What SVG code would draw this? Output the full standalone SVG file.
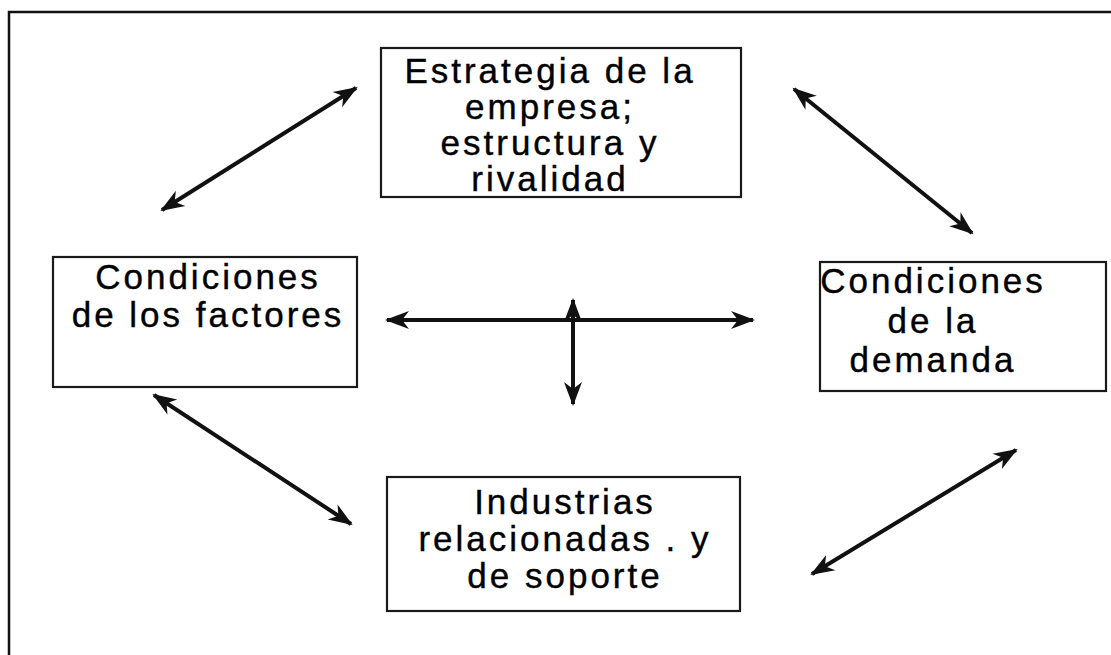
<svg xmlns="http://www.w3.org/2000/svg" width="1111" height="655" viewBox="0 0 1111 655">
<style>
.box{fill:#fff;stroke:#1a1a1a;stroke-width:2.2}
.t{font-family:"Liberation Sans",Arial,sans-serif;font-size:35px;letter-spacing:3px;fill:#000;stroke:#000;stroke-width:0.4;text-anchor:middle}
.c{stroke:#111;stroke-width:4;fill:none;marker-start:url(#ah);marker-end:url(#ah)}
</style>
<defs>
<marker id="ah" markerUnits="userSpaceOnUse" markerWidth="26" markerHeight="22" viewBox="0 0 26 22" refX="22" refY="11" orient="auto-start-reverse">
<path d="M0,2 L24,11 L0,20 L7,11 z" fill="#111"/>
</marker>
</defs>
<rect width="1111" height="655" fill="#fff"/>
<g id="frame">
<path d="M9,655 L9,12 L1111,12" fill="none" stroke="#111" stroke-width="2.5"/>
</g>
<g id="connectors">
<line class="c" x1="162" y1="210" x2="356" y2="88"/>
<line class="c" x1="794" y1="89" x2="972" y2="233"/>
<line class="c" x1="573" y1="300" x2="573" y2="404"/>
<line class="c" x1="387" y1="320" x2="753" y2="320"/>
<line class="c" x1="154" y1="395" x2="351" y2="524"/>
<line class="c" x1="812" y1="574" x2="1016" y2="450"/>
</g>
<g id="node-estrategia">
<rect class="box" x="381" y="48" width="360" height="149"/>
<text class="t" x="550" y="83">Estrategia de la</text>
<text class="t" x="550" y="119">empresa;</text>
<text class="t" x="550" y="155">estructura y</text>
<text class="t" x="550" y="191">rivalidad</text>
</g>
<g id="node-factores">
<rect class="box" x="53" y="257" width="304" height="130"/>
<text class="t" x="208" y="289">Condiciones</text>
<text class="t" x="208" y="327">de los factores</text>
</g>
<g id="node-demanda">
<rect class="box" x="820" y="262" width="286" height="129"/>
<text class="t" x="933" y="293">Condiciones</text>
<text class="t" x="933" y="333">de la</text>
<text class="t" x="933" y="372">demanda</text>
</g>
<g id="node-industrias">
<rect class="box" x="387" y="477" width="353" height="134"/>
<text class="t" x="565" y="514">Industrias</text>
<text class="t" x="565" y="551">relacionadas . y</text>
<text class="t" x="565" y="588">de soporte</text>
</g>
</svg>
